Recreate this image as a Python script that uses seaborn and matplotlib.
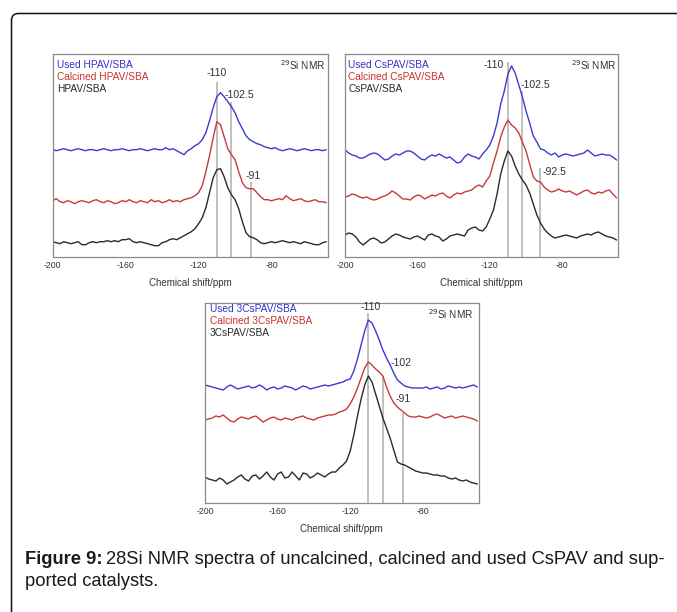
import numpy as np
import pandas as pd
import matplotlib
matplotlib.use("Agg")
import matplotlib.pyplot as plt
import matplotlib.transforms as mtransforms
from matplotlib.patches import PathPatch
from matplotlib.path import Path
from matplotlib import font_manager
import seaborn as sns

# chemical shift grid (ppm), -200 ... -50 in 2 ppm steps
shift = np.arange(-200, -49, 2)

# ---- HPAV/SBA panel ----
hpav_used = [
    107, 106, 107, 108, 107, 106, 107, 108, 107, 106,
    107, 107, 106, 107, 108, 107, 106, 107, 107, 108,
    107, 106, 107, 107, 108, 107, 106, 107, 108, 107,
    107, 109, 107, 108, 106, 104, 102, 106, 108, 111,
    113, 117, 124, 136, 149, 160, 164, 160, 155, 150,
    144, 135, 128, 121, 117, 115, 113, 112, 110, 109,
    108, 109, 107, 106, 107, 108, 107, 106, 107, 108,
    107, 106, 107, 107, 106, 107]
hpav_calc = [
    56, 58, 55, 54, 56, 55, 53, 55, 56, 55,
    54, 56, 57, 55, 54, 56, 55, 53, 54, 56,
    55, 57, 55, 54, 56, 55, 54, 57, 55, 56,
    54, 55, 57, 55, 56, 55, 57, 58, 59, 61,
    64, 71, 85, 101, 119, 135, 132, 120, 108, 102,
    97, 85, 74, 69, 68, 68, 64, 60, 57, 57,
    56, 57, 58, 57, 61, 58, 56, 57, 58, 56,
    55, 56, 57, 55, 55, 54]
hpav_fresh = [
    15, 14, 13, 15, 14, 13, 14, 15, 12, 12,
    14, 15, 14, 15, 15, 16, 15, 16, 15, 17,
    17, 18, 15, 14, 15, 14, 13, 12, 11, 11,
    14, 15, 17, 18, 17, 19, 21, 23, 25, 28,
    33, 39, 49, 64, 79, 87, 88, 80, 69, 62,
    57, 48, 35, 24, 20, 19, 17, 14, 13, 14,
    15, 14, 15, 16, 15, 14, 15, 14, 13, 15,
    14, 13, 12, 12, 14, 15]

# ---- CsPAV/SBA panel ----
cspav_used = [
    107, 104, 102, 101, 99, 99, 101, 103, 104, 103,
    100, 97, 98, 101, 103, 102, 104, 106, 106, 104,
    101, 98, 97, 100, 102, 101, 103, 101, 99, 100,
    97, 94, 95, 100, 103, 101, 100, 98, 103, 107,
    112, 121, 134, 153, 166, 183, 191, 184, 172, 160,
    146, 134, 121, 115, 108, 107, 104, 102, 104, 100,
    102, 103, 102, 101, 102, 103, 104, 107, 104, 101,
    102, 103, 102, 102, 100, 97]
cspav_calc = [
    60, 61, 63, 62, 60, 59, 60, 58, 57, 58,
    60, 61, 63, 66, 64, 61, 58, 58, 57, 60,
    62, 61, 58, 60, 62, 61, 63, 64, 61, 59,
    62, 64, 63, 65, 66, 67, 70, 72, 70, 76,
    81, 94, 106, 120, 130, 137, 132, 129, 124, 115,
    106, 93, 80, 76, 75, 70, 67, 65, 66, 68,
    66, 65, 66, 64, 62, 64, 66, 67, 64, 63,
    65, 64, 66, 67, 63, 59]
cspav_fresh = [
    22, 24, 23, 20, 15, 12, 15, 18, 19, 17,
    14, 15, 18, 21, 23, 22, 20, 19, 18, 20,
    21, 19, 17, 22, 23, 21, 20, 16, 18, 21,
    22, 23, 22, 21, 27, 29, 30, 27, 26, 30,
    38, 47, 63, 83, 96, 106, 101, 91, 83, 77,
    72, 64, 53, 42, 34, 28, 24, 21, 19, 20,
    21, 22, 21, 20, 19, 21, 22, 23, 22, 24,
    25, 23, 21, 20, 19, 17]

# ---- 3CsPAV/SBA panel ----
cs3_used = [
    118, 117, 116, 115, 114, 113, 116, 118, 116, 114,
    115, 116, 117, 115, 116, 118, 116, 113, 115, 116,
    114, 115, 117, 116, 115, 113, 115, 117, 116, 114,
    115, 116, 117, 118, 117, 118, 119, 120, 121, 123,
    124, 132, 144, 158, 172, 183, 180, 172, 163, 153,
    145, 138, 130, 123, 120, 117, 116, 115, 115, 115,
    115, 116, 114, 115, 116, 114, 115, 117, 116, 115,
    116, 115, 116, 117, 118, 116]
cs3_calc = [
    83, 84, 85, 87, 86, 88, 85, 82, 81, 84,
    86, 85, 84, 86, 87, 84, 81, 83, 85, 86,
    84, 83, 85, 84, 83, 85, 86, 87, 85, 84,
    83, 85, 86, 87, 88, 88, 89, 91, 92, 94,
    99, 106, 115, 125, 135, 141, 138, 134, 131, 127,
    116, 107, 100, 96, 93, 90, 87, 86, 86, 87,
    86, 85, 86, 88, 89, 87, 85, 86, 87, 85,
    86, 87, 86, 85, 84, 82]
cs3_fresh = [
    26, 24, 23, 22, 25, 23, 19, 21, 23, 26,
    28, 24, 22, 27, 28, 24, 27, 31, 26, 23,
    29, 31, 25, 26, 31, 27, 23, 30, 29, 25,
    27, 30, 28, 26, 29, 31, 31, 35, 38, 42,
    52, 68, 87, 104, 118, 127, 121, 109, 97, 85,
    75, 65, 53, 41, 39, 38, 36, 34, 32, 31,
    30, 30, 29, 28, 28, 27, 27, 25, 24, 25,
    23, 22, 23, 21, 20, 19]

series_labels = {
    "HPAV": ["Used HPAV/SBA", "Calcined HPAV/SBA", "HPAV/SBA"],
    "CsPAV": ["Used CsPAV/SBA", "Calcined CsPAV/SBA", "CsPAV/SBA"],
    "3CsPAV": ["Used 3CsPAV/SBA", "Calcined 3CsPAV/SBA", "3CsPAV/SBA"],
}
series_values = {
    "HPAV": [hpav_used, hpav_calc, hpav_fresh],
    "CsPAV": [cspav_used, cspav_calc, cspav_fresh],
    "3CsPAV": [cs3_used, cs3_calc, cs3_fresh],
}
# marked peak positions (ppm) per panel
peak_marks = {
    "HPAV": [-110, -102.5, -91],
    "CsPAV": [-110, -102.5, -92.5],
    "3CsPAV": [-110, -102, -91],
}
peak_line_tops = {
    "HPAV": [175, 155, 75],
    "CsPAV": [195, 166, 89],
    "3CsPAV": [190, 127, 90],
}
peak_label_pos = {
    "HPAV": [(-110, 184, "center"), (-106, 162, "left"), (-94.3, 81, "left")],
    "CsPAV": [(-112.3, 192, "right"), (-103.2, 172, "left"), (-91, 85, "left")],
    "3CsPAV": [(-108.6, 196, "center"), (-97.8, 140, "left"), (-95, 104, "left")],
}
peak_labels = {
    "HPAV": ["-110", "-102.5", "-91"],
    "CsPAV": ["-110", "-102.5", "-92.5"],
    "3CsPAV": ["-110", "-102", "-91"],
}
tick_values = [-200, -160, -120, -80]
minor_values = [-180, -140, -100, -60]

sns.set_style("white")
plt.rcParams["font.family"] = ["Liberation Sans", "DejaVu Sans"]

W, H = 677, 612
fig = plt.figure(figsize=(W / 100, H / 100), dpi=100)
fig.patch.set_facecolor("white")

# page frame: left and top edges with a rounded top-left corner
fx, fy, rad = 11.5, H - 13.5, 7.0
frame_path = Path(
    [(fx, -20), (fx, fy - rad), (fx, fy), (fx + rad, fy), (W + 40, fy)],
    [Path.MOVETO, Path.LINETO, Path.CURVE3, Path.CURVE3, Path.LINETO])
fig.add_artist(PathPatch(frame_path, transform=mtransforms.IdentityTransform(),
                         facecolor="none", edgecolor="#111111", linewidth=1.1))

colors = ["#3b3bd2", "#c83a3a", "#2b2b2b"]
label_colors = ["#3232c8", "#c83232", "#2a2a2a"]

# axes boxes in pixels: left, right, top, bottom
boxes = {
    "HPAV": (52.7, 327.7, 54.0, 256.7),
    "CsPAV": (345.0, 618.0, 54.0, 257.0),
    "3CsPAV": (205.0, 478.7, 302.7, 503.0),
}
legend_rows = {
    "HPAV": [65, 77, 89],
    "CsPAV": [65, 77, 89],
    "3CsPAV": [309.5, 321.5, 333.5],
}
legend_left = {"HPAV": 56.7, "CsPAV": 348.3, "3CsPAV": 210.0}
nmr_right = {"HPAV": 325.5, "CsPAV": 616.5, "3CsPAV": 473.5}
nmr_row = {"HPAV": 65.5, "CsPAV": 65.5, "3CsPAV": 314.0}

for key, (l, r, t, b) in boxes.items():
    ax = fig.add_axes([l / W, 1 - b / H, (r - l) / W, (b - t) / H])
    height = b - t
    df = pd.DataFrame({
        "shift": np.tile(shift, 3),
        "intensity": np.concatenate([np.asarray(v, float) for v in series_values[key]]),
        "sample": np.repeat(series_labels[key], len(shift)),
    })
    # peak reference lines behind the spectra
    for x, top in zip(peak_marks[key], peak_line_tops[key]):
        ax.vlines(x, 0, top, color="#b4b4b4", linewidth=1.2, zorder=1)
    sns.lineplot(data=df, x="shift", y="intensity", hue="sample",
                 hue_order=series_labels[key], palette=colors,
                 linewidth=1.0, legend=False, ax=ax, zorder=2)
    ax.set_xlim(-200, -49.2)
    ax.set_ylim(0, height)
    ax.set_yticks([])
    ax.set_ylabel("")
    ax.set_xticks(tick_values)
    ax.set_xticklabels([str(v) for v in tick_values])
    ax.set_xticks(minor_values, minor=True)
    ax.tick_params(axis="x", which="both", direction="in", length=3, width=0.7,
                   color="#666666", labelsize=6.3, labelcolor="#333333", pad=3)
    ax.set_xlabel("Chemical shift/ppm", fontsize=7, color="#333333", labelpad=5.5)
    for s in ax.spines.values():
        s.set_color("#8a8a8a")
        s.set_linewidth(0.9)
        s.set_visible(True)

    for (x, y, ha), txt in zip(peak_label_pos[key], peak_labels[key]):
        ax.text(x, y, txt, ha=ha, va="center", fontsize=7.6, color="#333333")

    for row, txt, c in zip(legend_rows[key], series_labels[key], label_colors):
        fig.text(legend_left[key] / W, 1 - row / H, txt, ha="left", va="center",
                 fontsize=7.3, color=c)
    fig.text(nmr_right[key] / W, 1 - nmr_row[key] / H, r"$^{29}$Si NMR",
             ha="right", va="center", fontsize=7.2, color="#333333")

# caption
available = {f.name for f in font_manager.fontManager.ttflist}
cap_family = "Liberation Sans Narrow" if "Liberation Sans Narrow" in available else "Liberation Sans"


def draw_caption(size):
    renderer = fig.canvas.get_renderer()
    t1 = fig.text(25 / W, 1 - 563.5 / H, "Figure 9:", fontsize=size, fontweight="bold",
                  family=cap_family, color="#1a1a1a", va="baseline", ha="left")
    bb = t1.get_window_extent(renderer)
    t2 = fig.text((bb.x1 + size * 0.3) / W, 1 - 563.5 / H,
                  "28Si NMR spectra of uncalcined, calcined and used CsPAV and sup-",
                  fontsize=size, family=cap_family, color="#1a1a1a", va="baseline", ha="left")
    t3 = fig.text(25 / W, 1 - 585.5 / H, "ported catalysts.", fontsize=size,
                  family=cap_family, color="#1a1a1a", va="baseline", ha="left")
    return [t1, t2, t3], t2.get_window_extent(renderer).x1


fig.canvas.draw()
texts, right = draw_caption(13)
for t in texts:
    t.remove()
size = 13 * (665 - 25) / (right - 25)
draw_caption(size)

fig.savefig("out.png", dpi=100, facecolor="white")
